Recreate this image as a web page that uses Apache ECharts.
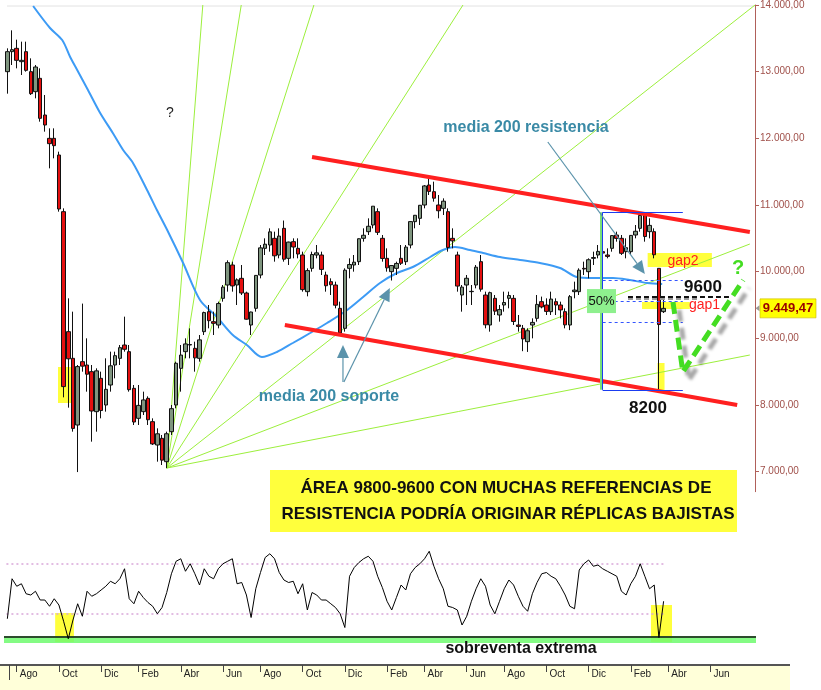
<!DOCTYPE html>
<html><head><meta charset="utf-8">
<script src="https://cdn.jsdelivr.net/npm/echarts@6.0.0/dist/echarts.min.js"></script>
<style>html,body{margin:0;padding:0;background:#fff}#c{width:821px;height:690px}</style>
</head><body><div id="c"></div>
<script>
// ---------- DATA (weekly) ----------
const startWeek = [2008, 6, 14];          // first weekly bar (Mon 14 Jul 2008)
const totalWeeks = 160;                    // axis continues into the future
const lastLabelWeek = 154;                 // date labels stop at "Jun"
const monthNames = ['Ene','Feb','Mar','Abr','May','Jun','Jul','Ago','Sep','Oct','Nov','Dic'];
const yTicks = [7000,8000,9000,10000,11000,12000,13000,14000];

const opens = [13000,13300,13350,13150,13300,13000,12700,12900,12350,12000,
12000,11750,10900,9100,8700,7700,8650,8600,8500,7900,
8400,8000,8300,8600,8700,8900,8800,8250,7800,7900,
8100,7750,7400,7500,7150,7600,8000,8550,8800,8900,
8850,8700,9100,9400,9250,9200,9600,9800,10100,9800,
9900,9680,9200,9450,9950,10350,10400,10500,10250,10650,
10200,10450,10350,10250,9700,10050,10250,10250,9950,9850,
9800,9450,9150,10050,10100,10150,10500,10600,10700,10900,
10500,10200,10000,10050,10200,10150,10400,10750,10800,11000,
11300,11200,11000,10950,10900,10500,10250,9650,9800,9700,
9800,10150,9650,9200,9600,9350,9500,9600,9600,9200,
9150,8950,9200,9300,9550,9500,9400,9550,9500,9400,
9200,9700,9700,10050,10000,10200,10250,10300,10250,10350,
10550,10500,10300,10300,10550,10650,10850,10600,10600,10050,
9400];
const highs = [13350,13620,13480,13450,13450,13200,13100,13050,12650,12150,
12150,11800,10950,9600,9400,8600,9521,9000,8600,8550,
8500,8700,8800,8800,8900,9325,8900,8300,8300,8200,
8130,7800,7650,7550,7600,8000,8650,8900,9000,9150,
8950,9050,9400,9500,9400,9550,9800,10170,10150,9900,
10100,9700,9400,9950,10400,10500,10650,10600,10650,10767,
10450,10500,10500,10300,10050,10300,10400,10300,10000,9900,
9850,9550,10050,10200,10250,10500,10650,10800,10982,10950,
10550,10350,10100,10150,10400,10400,10760,10850,11000,11300,
11408,11350,11150,11100,10950,10650,10300,9800,9950,9800,
10100,10250,9700,9700,9650,9500,9700,9700,9650,9350,
9200,9150,9300,9650,9626,9600,9700,9600,9550,9450,
9650,9850,10050,10150,10200,10300,10400,10400,10350,10550,
10600,10550,10500,10550,10700,10891,10860,10800,10650,10050,
9620];
const lows = [12670,13100,13050,12950,13000,12650,12600,12250,12100,11550,
11700,10900,8115,7960,7600,6994,8500,8200,7450,7600,
7800,7900,8200,8400,8600,8800,8200,7700,7700,7850,
7700,7400,7150,7100,7054,7550,7950,8200,8700,8700,
8500,8650,9050,9150,9050,9150,9550,9700,9700,9500,
9650,9280,9050,9400,9900,10250,10300,10150,10200,10150,
10100,10200,10200,9700,9630,10000,10200,9950,9700,9650,
9450,9076,9100,9900,10000,10100,10450,10550,10650,10550,
10150,10000,9867,9950,10100,10100,10350,10650,10700,10950,
11150,11050,10800,10850,10300,10350,9700,9400,9500,9500,
9750,9700,9150,9100,9350,9250,9400,9450,9200,9100,
8807,8796,9000,9250,9450,9350,9350,9350,9300,9150,
9123,9600,9650,9950,9900,10100,10200,10150,10200,10300,
10450,10250,10200,10250,10500,10600,10450,10500,10200,8227,
9380];
const closes = [13300,13330,13170,13170,13020,12670,13070,12300,12200,11920,
11890,10940,8276,8693,7649,8576,8583,8462,7910,8512,
7917,8235,8588,8740,8860,8836,8230,7745,7994,8076,
7779,7416,7568,7173,7569,7945,8626,8749,8916,8907,
8707,8977,9386,9265,9225,9522,9768,10135,9786,9877,
9680,9287,9395,9944,10357,10412,10597,10238,10534,10187,
10444,10370,10265,9731,10016,10257,10282,10034,9789,9804,
9497,9081,10022,10107,10142,10494,10546,10681,10982,10590,
10198,10057,10092,10123,10126,10368,10751,10846,10996,11286,
11204,11102,10914,11057,10364,10462,9784,9768,9901,9705,
10067,9737,9203,9685,9408,9431,9537,9642,9253,9179,
8991,9114,9239,9509,9471,9404,9589,9500,9426,9202,
9625,9724,10022,10040,10179,10212,10304,10279,10229,10541,
10499,10275,10360,10544,10606,10843,10527,10694,10254,9207,
9449.47];

// 200-session moving average [week, value]
const maWeek  = [5.5,9.1,11.7,13.4,14.9,17.2,19.8,22.5,24.7,26.8,29.8,31.9,34.1,37.5,41.1,44.7,48.1,51.1,54.3,57.5,60.9,64.6,68.2,72.5,75.9,79.5,83.1,86.5,90.2,92.9,95.5,98.7,101.5,105.1,109.4,113.6,117.9,121.5,124.9,129.2,132.8,136.5,139.7];
const maValue = [13985,13655,13475,13220,13025,12725,12380,12080,11825,11630,11225,10925,10625,10130,9575,9320,9050,8900,8720,8795,8930,9080,9230,9425,9620,9830,9980,10070,10220,10325,10370,10325,10280,10220,10175,10130,10055,9920,9905,9905,9875,9830,9815];

// oscillator (lower panel), one value per week
const oscValues = [26,58,52,54,46,45,48,41,41,36, 42,37,24,10,25,38,28,48,44,46,
49,52,56,54,58,66,42,38,48,43, 39,36,30,35,47,62,72,74,64,70,
62,53,66,60,58,66,70,72,74,54, 55,45,27,50,63,75,78,74,63,57,
55,56,46,54,33,47,45,41,41,38, 35,30,19,60,67,71,74,76,72,60,
51,40,33,43,53,49,62,67,70,74, 80,68,58,50,36,35,33,21,28,40,
50,58,52,37,30,40,50,57,53,44, 36,32,46,55,62,63,60,58,52,45,
36,34,65,70,73,68,69,66,64,62, 60,48,45,54,60,70,60,50,53,11, 40];
const oscLevels = [70, 30];
const oscExtreme = [6.6, 12.2];

// annotations in data space [week, value]
const fanOrigin = [34, 7054];
const fanEnds = [[41.7,14000],[49.9,14000],[65.4,14000],[97.2,14000],[159.5,14000],[158.4,10415],[158.4,8750]];
const channelUpper = [[65.0,11720],[158.4,10595]];
const channelLower = [[59.2,9200],[155.7,8000]];
const fibGreenWeek = 126.6, fibStartWeek = 127.0, fibEndWeek = 144.1;
const fibHigh = 10891, fibLow = 8227, fibRatios = [0.382, 0.5, 0.618];
const level9600 = [[132.4,9630],[154.6,9630]];
const level9600b = [[132.4,9590],[147.5,9590]];
const projection = [[142.0,9545],[144.1,8495],[157.0,9875]];
const arrowResist = [[115.3,11945],[136.0,9965]];
const arrowSop1 = [[71.6,8345],[71.6,8900]];
const arrowSop2 = [[71.8,8345],[81.6,9755]];
const gap2Box = [136.6,10280,150.3,10070];
const gap1Box = [135.4,9545,145.6,9440];
const lowBox = [138.7,8630,140.2,8225];
const leftBox = [10.8,8570,14.0,8030];
const oscLeftBox = [10.2,30.6,14.2,7.4];
const oscRightBox = [137.3,37,141.8,7.4];
const lastPrice = 9449.47;

// ---------- BUILD ----------
const weekDates = [];
for (let i = 0; i < totalWeeks; i++) {
  const d = new Date(Date.UTC(startWeek[0], startWeek[1], startWeek[2] + 7 * i));
  weekDates.push(d.toISOString().slice(0, 10));
}
function monthLabel(i) {
  if (i > lastLabelWeek) return null;
  const d = new Date(weekDates[i] + 'T00:00:00Z');
  for (let k = 0; k < 7; k++) {
    const dd = new Date(d.getTime() + k * 86400000);
    if (dd.getUTCDate() === 1 && dd.getUTCMonth() % 2 === 1) return monthNames[dd.getUTCMonth()];
  }
  return null;
}
const candles = opens.map((o, i) => [o, closes[i], lows[i], highs[i]]);
function fmtPrice(v) {
  const p = Number(v).toFixed(2).split('.');
  return p[0].replace(/\B(?=(\d{3})+(?!\d))/g, '.') + ',' + p[1];
}
const F = 'Liberation Sans, Arial, sans-serif';
const fibLevels = fibRatios.map(r => fibLow + r * (fibHigh - fibLow));

const chart = echarts.init(document.getElementById('c'), null, {renderer: 'canvas'});

const seg = (a, b, style) => ({coords: [a, b], lineStyle: style});

const option = {
  animation: false,
  backgroundColor: '#ffffff',
  grid: [
    {left: 5, right: 66, top: 5, height: 486.67},
    {left: 5, right: 66, top: 545, height: 100}
  ],
  xAxis: [
    {type: 'category', gridIndex: 0, data: weekDates, show: false},
    {type: 'value', gridIndex: 0, min: -0.5, max: totalWeeks - 0.5, show: false},
    {type: 'category', gridIndex: 1, data: weekDates, position: 'bottom', offset: 20, z: 10,
      axisLine: {show: false, onZero: false},
      axisTick: {show: true, alignWithLabel: true, length: 7, interval: (i) => !!monthLabel(i), lineStyle: {color: '#444'}},
      axisLabel: {interval: (i) => !!monthLabel(i), formatter: (v, i) => monthLabel(i) || '', align: 'left',
        padding: [0, 0, 0, 3], margin: 4, fontSize: 10, color: '#222', fontFamily: F},
      splitLine: {show: false}},
    {type: 'value', gridIndex: 1, min: -0.5, max: totalWeeks - 0.5, show: false}
  ],
  yAxis: [
    {type: 'value', gridIndex: 0, position: 'right', min: 6700, max: 14000, splitLine: {show: false},
      axisLine: {show: true, onZero: false, lineStyle: {color: '#b0605a', width: 1}},
      axisTick: {show: true, length: 4, customValues: yTicks, lineStyle: {color: '#b0605a'}},
      axisLabel: {customValues: yTicks, formatter: fmtPrice, color: '#a0504a', fontSize: 10, margin: 5, fontFamily: F}},
    {type: 'value', gridIndex: 1, min: 5, max: 85, show: false}
  ],
  series: [
    {type: 'lines', coordinateSystem: 'cartesian2d', xAxisIndex: 1, yAxisIndex: 0, z: 2, silent: true,
      lineStyle: {color: '#9cef3c', width: 1, opacity: 1},
      data: fanEnds.map(e => ({coords: [fanOrigin, e]}))},
    {type: 'line', xAxisIndex: 1, yAxisIndex: 0, data: maWeek.map((w, i) => [w, maValue[i]]), smooth: 0.3,
      symbol: 'none', lineStyle: {color: '#3d9bf5', width: 2}, z: 2, silent: true},
    {type: 'candlestick', xAxisIndex: 0, yAxisIndex: 0, data: candles, barWidth: 4, z: 3, silent: true,
      itemStyle: {color: '#7f957f', color0: '#e41010', borderColor: '#111', borderColor0: '#111', borderWidth: 1}},
    {type: 'lines', coordinateSystem: 'cartesian2d', xAxisIndex: 1, yAxisIndex: 0, z: 4, silent: true,
      lineStyle: {opacity: 1},
      data: [
        seg(channelUpper[0], channelUpper[1], {color: '#ff2020', width: 4, opacity: 1}),
        seg(channelLower[0], channelLower[1], {color: '#ff2020', width: 4, opacity: 1}),
        seg([fibGreenWeek, fibHigh], [fibGreenWeek, fibLow], {color: '#77e077', width: 2, opacity: 1}),
        seg([fibStartWeek, fibHigh], [fibStartWeek, fibLow], {color: '#1a3cf0', width: 1, opacity: 1}),
        seg([fibStartWeek, fibHigh], [fibEndWeek, fibHigh], {color: '#1a3cf0', width: 1.2, opacity: 1}),
        seg([fibStartWeek, fibLow], [fibEndWeek, fibLow], {color: '#1a3cf0', width: 1.2, opacity: 1}),
        ...fibLevels.map(l => seg([fibStartWeek, l], [fibEndWeek, l], {color: '#3355ff', width: 1, type: [3, 3], opacity: 1})),
        seg(level9600b[0], level9600b[1], {color: '#999', width: 2, type: [5, 3], opacity: 1}),
        seg(level9600[0], level9600[1], {color: '#111', width: 2, type: [5, 3], opacity: 1})
      ]},
    {type: 'line', xAxisIndex: 1, yAxisIndex: 0, data: projection, symbol: 'none', z: 5, silent: true,
      lineStyle: {color: '#44dd22', width: 5, type: [12, 6], shadowColor: 'rgba(0,0,0,0.35)', shadowBlur: 3, shadowOffsetX: 6, shadowOffsetY: 8}},
    {type: 'lines', coordinateSystem: 'cartesian2d', xAxisIndex: 3, yAxisIndex: 1, z: 2, silent: true,
      lineStyle: {color: '#d9a6d9', width: 1.5, type: [2, 3], opacity: 1},
      data: oscLevels.map(l => ({coords: [[-0.2, l], [140.5, l]]}))},
    {type: 'line', xAxisIndex: 2, yAxisIndex: 1, data: oscValues, symbol: 'none', z: 4, silent: true,
      lineStyle: {color: '#000', width: 1}}
  ]
};
chart.setOption(option);

// ---------- annotations positioned through the axes ----------
const X = w => chart.convertToPixel({xAxisIndex: 1}, w);
const Y = v => chart.convertToPixel({yAxisIndex: 0}, v);
const OX = w => chart.convertToPixel({xAxisIndex: 3}, w);
const OY = v => chart.convertToPixel({yAxisIndex: 1}, v);

function box(b, fx, fy, fill, z) {
  const x1 = fx(b[0]), y1 = fy(b[1]), x2 = fx(b[2]), y2 = fy(b[3]);
  return {type: 'rect', z: z, silent: true,
    shape: {x: Math.min(x1, x2), y: Math.min(y1, y2), width: Math.abs(x2 - x1), height: Math.abs(y2 - y1)},
    style: {fill: fill}};
}
function arrow(a, color) {
  const x1 = X(a[0][0]), y1 = Y(a[0][1]), x2 = X(a[1][0]), y2 = Y(a[1][1]);
  const dx = x2 - x1, dy = y2 - y1, L = Math.hypot(dx, dy), ux = dx / L, uy = dy / L;
  const hl = 13, hw = 6, bx = x2 - ux * hl, by = y2 - uy * hl;
  return [
    {type: 'line', z: 60, silent: true, shape: {x1: x1, y1: y1, x2: bx, y2: by}, style: {stroke: color, lineWidth: 1.2}},
    {type: 'polygon', z: 60, silent: true, shape: {points: [[x2, y2], [bx - uy * hw, by + ux * hw], [bx + uy * hw, by - ux * hw]]}, style: {fill: color}}
  ];
}
function txt(t, x, y, font, fill, align) {
  return {type: 'text', z: 100, silent: true,
    style: {text: t, x: x, y: y, font: font, fill: fill, align: align || 'center', verticalAlign: 'middle',
      textAlign: align || 'center', textVerticalAlign: 'middle'}};
}

const yPrice = Y(lastPrice);
const ext1 = OY(oscExtreme[1]), ext0 = OY(oscExtreme[0]);
const els = [
  // top border
  {type: 'line', z: 1, silent: true, shape: {x1: 7, y1: 6, x2: 755, y2: 6}, style: {stroke: '#e2e2e2', lineWidth: 1}},
  // yellow highlights
  box(gap2Box, X, Y, '#ffff3c', 1),
  box(gap1Box, X, Y, '#ffff3c', 1),
  box(lowBox, X, Y, '#ffff3c', 1),
  box(leftBox, X, Y, '#ffff3c', 1),
  box(oscLeftBox, OX, OY, '#ffff3c', 1),
  box(oscRightBox, OX, OY, '#ffff3c', 1),
  // oversold band
  {type: 'rect', z: 1, silent: true, shape: {x: 4, y: ext1, width: 752, height: ext0 - ext1}, style: {fill: 'rgba(110,250,110,0.85)'}},
  {type: 'line', z: 3, silent: true, shape: {x1: 4, y1: ext1 + 1, x2: 756, y2: ext1 + 1}, style: {stroke: '#111', lineWidth: 1.5}},
  // bottom date strip
  {type: 'rect', z: 0, silent: true, shape: {x: 0, y: 665, width: 790, height: 25}, style: {fill: '#ffffd9'}},
  {type: 'line', z: 2, silent: true, shape: {x1: 0, y1: 665, x2: 790, y2: 665}, style: {stroke: '#555', lineWidth: 2}},
  {type: 'line', z: 2, silent: true, shape: {x1: 9.5, y1: 665, x2: 9.5, y2: 680}, style: {stroke: '#444', lineWidth: 1}},
  // arrows
  ...arrow(arrowResist, '#5b93ab'),
  ...arrow(arrowSop1, '#5b93ab'),
  ...arrow(arrowSop2, '#5b93ab'),
  // texts
  txt('?', 170, 113, '14px ' + F, '#222'),
  txt('media 200 resistencia', 526, 128, 'bold 16px ' + F, '#3a8aa6'),
  txt('media 200 soporte', 329, 397, 'bold 16px ' + F, '#3a8aa6'),
  txt('8200', 648, 408, 'bold 17px ' + F, '#111'),
  txt('9600', 703, 287, 'bold 17px ' + F, '#111'),
  txt('gap2', 683, 261, '14px ' + F, '#ff2020'),
  txt('gap1', 689, 305, '14px ' + F, '#ff2020', 'left'),
  txt('?', 738, 268, 'bold 20px ' + F, '#44dd22'),
  // 50% tag
  {type: 'rect', z: 90, silent: true, shape: {x: 587, y: Y(fibLevels[1]) - 12, width: 29, height: 24}, style: {fill: '#8ef08e'}},
  txt('50%', 601.5, Y(fibLevels[1]), '13px ' + F, '#111'),
  // last price tag
  {type: 'polygon', z: 90, silent: true, shape: {points: [[755.5, yPrice], [759.5, yPrice - 3], [759.5, yPrice + 3]]}, style: {fill: '#999'}},
  {type: 'rect', z: 90, silent: true, shape: {x: 760, y: yPrice - 9.5, width: 56, height: 19}, style: {fill: '#ffff00', stroke: '#c8b400', lineWidth: 0.6}},
  txt(fmtPrice(lastPrice), 788, yPrice + 0.5, 'bold 13px ' + F, '#9a0000'),
  // message box
  {type: 'rect', z: 90, silent: true, shape: {x: 270, y: 470, width: 467, height: 62}, style: {fill: '#ffff3c'}},
  txt('ÁREA 9800-9600 CON MUCHAS REFERENCIAS DE', 506, 488, 'bold 17px ' + F, '#111'),
  txt('RESISTENCIA PODRÍA ORIGINAR RÉPLICAS BAJISTAS', 508, 514, 'bold 17px ' + F, '#111'),
  txt('sobreventa extrema', 521, 649, 'bold 16px ' + F, '#111')
];
chart.setOption({graphic: {elements: els}});
</script>
</body></html>
